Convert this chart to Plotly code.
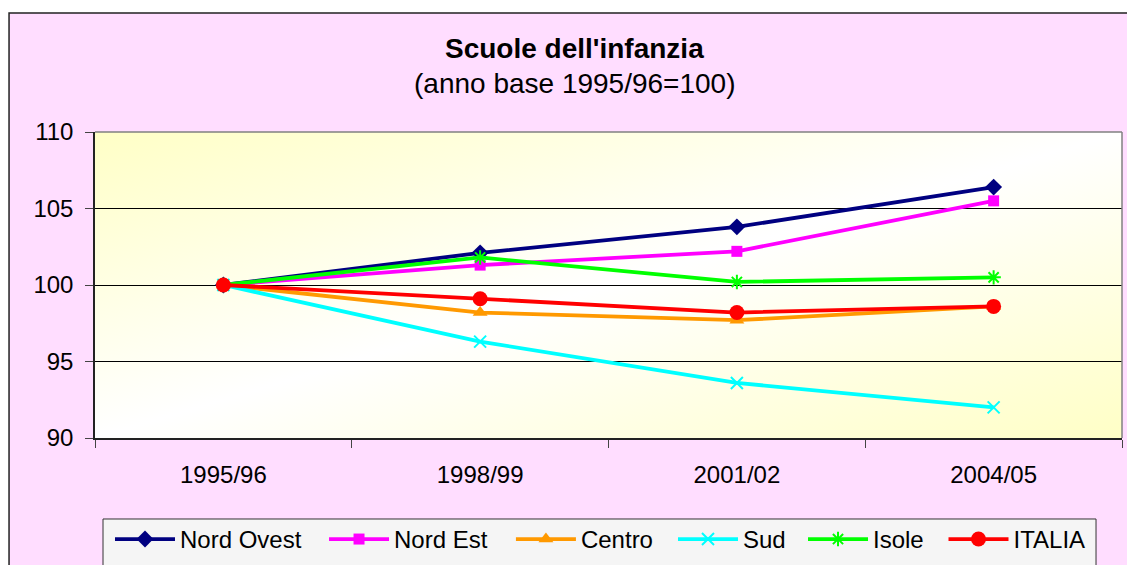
import base64
import plotly.graph_objects as go

years = ["1995/96", "1998/99", "2001/02", "2004/05"]
nord_ovest = [100, 102.1, 103.8, 106.4]
nord_est = [100, 101.3, 102.2, 105.5]
centro = [100, 98.2, 97.7, 98.6]
sud = [100, 96.3, 93.6, 92.0]
isole = [100, 101.8, 100.2, 100.5]
italia = [100, 99.1, 98.2, 98.6]

# name, values, colour, symbol, marker size, legend id, legend x-position (paper)
series = [
    ("Nord Ovest", nord_ovest, "#000080", "diamond", 13, "legend", 0.0146),
    ("Nord Est", nord_est, "#FF00FF", "square", 11, "legend2", 0.2230),
    ("Centro", centro, "#FF9900", "triangle-up", 13, "legend3", 0.4050),
    ("Sud", sud, "#00FFFF", "x-thin", 12, "legend4", 0.5628),
    ("Isole", isole, "#00FF00", "asterisk", 12, "legend5", 0.6894),
    ("ITALIA", italia, "#FF0000", "circle", 15, "legend6", 0.8262),
]

FONT = "Liberation Sans, Arial, sans-serif"
LEG_Y = -0.258

fig = go.Figure()
legends = {}
for name, vals, col, sym, sz, leg, lx in series:
    open_sym = sym in ("x-thin", "asterisk")
    fig.add_trace(go.Scatter(
        x=years, y=vals, name=name, mode="lines+markers", legend=leg,
        line=dict(color=col, width=3.8),
        marker=dict(symbol=sym, size=sz, color=col,
                    line=dict(color=col, width=2 if open_sym else 0)),
    ))
    legends[leg] = dict(orientation="h", x=lx, y=LEG_Y, xanchor="left", yanchor="top",
                        bgcolor="rgba(0,0,0,0)", borderwidth=0,
                        font=dict(family=FONT, size=24, color="black"), itemwidth=60)

svg = ('<svg xmlns="http://www.w3.org/2000/svg" width="100" height="100" preserveAspectRatio="none">'
       '<defs><linearGradient id="g" x1="0" y1="0" x2="1" y2="1">'
       '<stop offset="0" stop-color="#FFFFC6"/><stop offset="0.5" stop-color="#FFFFFF"/>'
       '<stop offset="1" stop-color="#FFFFC6"/></linearGradient></defs>'
       '<rect width="100" height="100" fill="url(#g)"/></svg>')
src = "data:image/svg+xml;base64," + base64.b64encode(svg.encode()).decode()

fig.update_layout(
    width=1127, height=565,
    margin=dict(l=95, r=5, t=132, b=127, autoexpand=False),
    paper_bgcolor="#FFDDFF",
    plot_bgcolor="rgba(0,0,0,0)",
    font=dict(family=FONT, size=24, color="black"),
    showlegend=True,
    images=[dict(source=src, xref="paper", yref="paper", x=0, y=1, sizex=1, sizey=1,
                 sizing="stretch", layer="below", xanchor="left", yanchor="top")],
    xaxis=dict(type="category", range=[-0.5, 3.5], showgrid=False, showline=True,
               linecolor="#222222", linewidth=1.5, ticks="outside", tickson="boundaries",
               ticklen=8, tickcolor="#444444", ticklabelstandoff=14,
               tickfont=dict(size=24), automargin=False),
    yaxis=dict(range=[90, 110], dtick=5, tick0=90, showgrid=True, gridcolor="black",
               gridwidth=1, showline=True, linecolor="#222222", linewidth=1.5,
               ticks="outside", ticklen=8, tickcolor="#444444", ticklabelstandoff=7,
               zeroline=False, tickfont=dict(size=24), automargin=False),
    annotations=[
        dict(text="<b>Scuole dell'infanzia</b>", xref="paper", yref="paper",
             x=0.467, y=1.2745, xanchor="center", yanchor="middle", showarrow=False,
             font=dict(size=28, family=FONT)),
        dict(text="(anno base 1995/96=100)", xref="paper", yref="paper",
             x=0.467, y=1.157, xanchor="center", yanchor="middle", showarrow=False,
             font=dict(size=28, family=FONT)),
    ],
    shapes=[
        # white margin outside chart border (left and top)
        dict(type="rect", xref="paper", yref="paper", x0=-0.2, x1=-0.0837, y0=-1, y1=2,
             fillcolor="white", line=dict(width=0), layer="below"),
        dict(type="rect", xref="paper", yref="paper", x0=-0.2, x1=1.2, y0=1.389, y1=2,
             fillcolor="white", line=dict(width=0), layer="below"),
        # chart border
        dict(type="rect", xref="paper", yref="paper", x0=-0.0837, x1=1.3, y0=-1, y1=1.389,
             fillcolor="rgba(0,0,0,0)", line=dict(color="#222222", width=1.5), layer="below"),
        # legend box
        dict(type="rect", xref="paper", yref="paper", x0=0.0078, x1=0.9747, y0=-0.5, y1=-0.2647,
             fillcolor="#F5F5F5", line=dict(color="#333333", width=1), layer="below"),
        # plot-area top and right border
        dict(type="line", xref="paper", yref="paper", x0=0, x1=1, y0=1, y1=1,
             line=dict(color="#808080", width=1.5), layer="above"),
        dict(type="line", xref="paper", yref="paper", x0=1, x1=1, y0=0, y1=1,
             line=dict(color="#808080", width=1.5), layer="above"),
    ],
    **legends,
)

fig.write_html("out.html", config={"displayModeBar": False},
               post_script="document.body.style.margin='0';document.body.style.overflow='hidden';")
